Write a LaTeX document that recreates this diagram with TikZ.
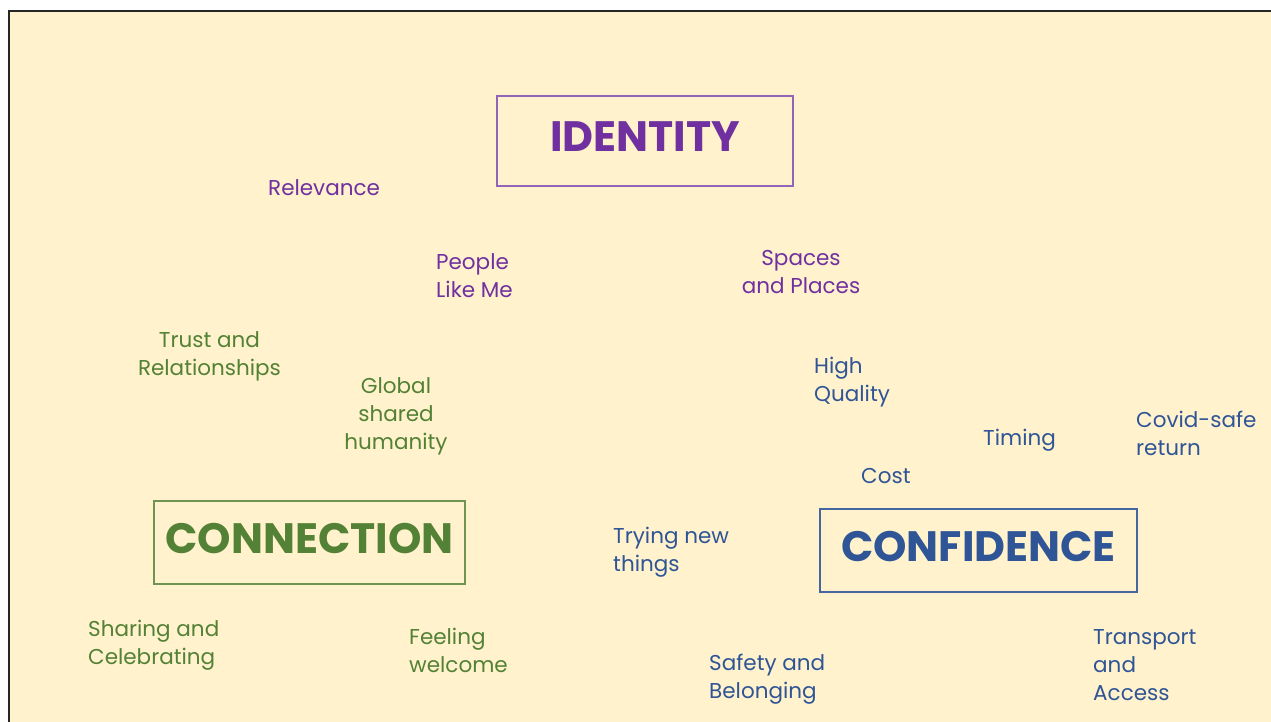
\documentclass[tikz,border=0pt]{standalone}
\usepackage{fontspec}
\setmainfont{Poppins}
\definecolor{cream}{HTML}{FFF2CC}
\definecolor{idpurple}{HTML}{7030A0}
\definecolor{cngreen}{HTML}{538135}
\definecolor{cfblue}{HTML}{2F5597}
\begin{document}
\begin{tikzpicture}[x=1pt,y=-1pt,
  titlebox/.style={draw, line width=1.2pt, minimum height=83pt, inner sep=0pt,
    font=\fontsize{42.5}{46}\selectfont\bfseries, text height=31pt, text depth=10pt},
  word/.style={inner sep=0pt, font=\fontsize{21.5}{27.8}\selectfont},
  % multi-line nodes are placed by the baseline of their last line
  lword/.style={word, anchor=base west, align=left},
  cword/.style={word, anchor=base, align=center},
  idw/.style={text=idpurple},
  cnw/.style={text=cngreen},
  cfw/.style={text=cfblue}]
  % page and framed background
  \useasboundingbox (0,0) rectangle (1271,722);
  \fill[white] (0,0) rectangle (1271,722);
  \fill[cream] (9,11) rectangle (1271,722);
  \draw[line width=2pt, black!85] (9,722) -- (9,11) -- (1271,11);

  % the three headings
  \node[titlebox, draw=idpurple!75, text=idpurple, minimum width=296pt, minimum height=90pt]
    (identity) at (645,141) {IDENTITY};
  \node[titlebox, draw=cngreen!85, text=cngreen, minimum width=311pt]
    (connection) at (309.5,542.5) {CONNECTION};
  \node[titlebox, draw=cfblue!90, text=cfblue, minimum width=317pt]
    (confidence) at (978.5,550.5) {CONFIDENCE};

  % identity words
  \node[lword, idw] (relevance) at (268,196) {Relevance};
  \node[lword, idw] (people) at (436,297.5) {People\\Like Me};
  \node[cword, idw] (spaces) at (801,293) {Spaces\\and Places};

  % connection words
  \node[cword, cnw] (trust) at (209.5,375) {Trust and\\Relationships};
  \node[cword, cnw] (global) at (396,449) {Global\\shared\\humanity};
  \node[lword, cnw] (sharing) at (88,664) {Sharing and\\Celebrating};
  \node[lword, cnw] (feeling) at (409,672) {Feeling\\welcome};

  % confidence words
  \node[lword, cfw] (quality) at (814,401) {High\\Quality};
  \node[lword, cfw] (timing) at (983,445) {Timing};
  \node[lword, cfw] (covid) at (1136,455) {Covid-safe\\return};
  \node[lword, cfw] (cost) at (861,483) {Cost};
  \node[lword, cfw] (trying) at (613,571) {Trying new\\things};
  \node[lword, cfw] (safety) at (709,698) {Safety and\\Belonging};
  \node[lword, cfw] (transport) at (1093,700) {Transport\\and\\Access};
\end{tikzpicture}
\end{document}
